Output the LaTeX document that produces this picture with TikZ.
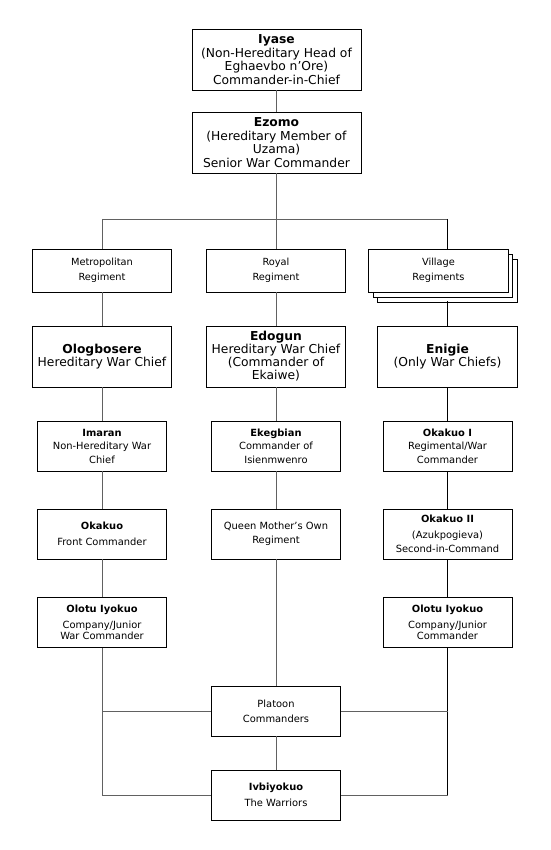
\documentclass[tikz,border=0pt]{standalone}
\usepackage{fontspec}
\setmainfont{DejaVu Sans}
\begin{document}
\begin{tikzpicture}[x=1pt,y=-1pt,
  box/.style={draw=black, fill=white, line width=0.8pt, inner sep=0pt, align=center},
  topbox/.style={box, minimum width=169pt, minimum height=61pt, font=\fontsize{12.3}{13.5}\selectfont},
  regbox/.style={box, minimum width=139.5pt, minimum height=43pt, font=\fontsize{9.8}{15}\selectfont},
  chiefbox/.style={box, minimum width=139.5pt, minimum height=61pt, font=\fontsize{12.3}{13}\selectfont},
  smallbox/.style={box, minimum width=129pt, minimum height=50pt, font=\fontsize{9.9}{13.5}\selectfont},
  link/.style={draw=black!62, line width=0.9pt},
  blink/.style={draw=black, line width=0.8pt}]
\useasboundingbox (0,0) rectangle (550,850);

% top
\node[topbox] (iyase) at (276.5,59.5) {\textbf{Iyase}\\(Non-Hereditary Head of\\Eghaevbo n'Ore)\\Commander-in-Chief};
\node[topbox] (ezomo) at (276.5,142.5) {\textbf{Ezomo}\\(Hereditary Member of\\Uzama)\\Senior War Commander};

% regiments
\node[regbox] (metro) at (102,270.5) {Metropolitan\\Regiment};
\node[regbox] (royal) at (276,270.5) {Royal\\Regiment};
\node[regbox] (village3) at (447.5,280.5) {};
\node[regbox] (village2) at (443,275.5) {};
\node[regbox] (village) at (438.5,270.5) {Village\\Regiments};

% chiefs
\node[chiefbox] (olog) at (102,356.5) {\textbf{Ologbosere}\\Hereditary War Chief};
\node[chiefbox] (edogun) at (276,356.5) {\textbf{Edogun}\\Hereditary War Chief\\(Commander of\\Ekaiwe)};
\node[chiefbox] (enigie) at (447.5,356.5) {\textbf{Enigie}\\(Only War Chiefs)};

% row 3
\node[smallbox] (imaran) at (102,446) {\textbf{Imaran}\\Non-Hereditary War\\Chief};
\node[smallbox] (ekegbian) at (276,446) {\textbf{Ekegbian}\\Commander of\\Isienmwenro};
\node[smallbox] (okakuoI) at (447.5,446) {\textbf{Okakuo I}\\Regimental/War\\Commander};

% row 4
\node[smallbox] (okakuo) at (102,534) {\textbf{Okakuo}\\[2.5pt]Front Commander};
\node[smallbox] (queen) at (276,534) {Queen Mother's Own\\Regiment};
\node[smallbox] (okakuoII) at (447.5,534) {\textbf{Okakuo II}\\[2.5pt](Azukpogieva)\\Second-in-Command};

% row 5
\node[smallbox, font=\fontsize{9.9}{11.7}\selectfont] (olotu) at (102,622.5) {\textbf{Olotu Iyokuo}\\[4pt]Company/Junior\\War Commander};
\node[smallbox, font=\fontsize{9.9}{11.7}\selectfont] (olotuII) at (447.5,622.5) {\textbf{Olotu Iyokuo}\\[4pt]Company/Junior\\Commander};

% bottom
\node[smallbox, font=\fontsize{9.9}{15}\selectfont] (platoon) at (276,711) {Platoon\\Commanders};
\node[smallbox, font=\fontsize{9.9}{16}\selectfont] (ivbi) at (276,795) {\textbf{Ivbiyokuo}\\The Warriors};

% coordinates
\coordinate (br) at (276.5,219);
\coordinate (brL) at (102,219);
\coordinate (brR) at (447.5,219);
\coordinate (vtop) at (447.5,249);
\coordinate (vbot) at (447.5,301);
\coordinate (pL) at (102,711);
\coordinate (pR) at (447.5,711);
\coordinate (wL) at (102,795);
\coordinate (wR) at (447.5,795);

% connectors
\path[link] (iyase) -- (ezomo);
\path[link] (ezomo) -- (br);
\path[link] (brL) -- (brR);
\path[link] (brL) -- (metro);
\path[link] (royal.north) -- (royal.north |- br);
\path[blink] (brR) -- (vtop);
\path[link] (metro) -- (olog);
\path[link] (royal) -- (edogun);
\path[blink] (vbot) -- (enigie);
\path[link] (olog) -- (imaran);
\path[link] (imaran) -- (okakuo);
\path[link] (okakuo) -- (olotu);
\path[link] (olotu) -- (wL) -- (ivbi.west);
\path[link] (pL) -- (platoon.west);
\path[link] (edogun) -- (ekegbian);
\path[link] (ekegbian) -- (queen);
\path[link] (queen) -- (platoon);
\path[link] (platoon) -- (ivbi);
\path[blink] (enigie) -- (okakuoI);
\path[blink] (okakuoI) -- (okakuoII);
\path[blink] (okakuoII) -- (olotuII);
\path[blink] (olotuII) -- (wR);
\path[link] (wR) -- (ivbi.east);
\path[link] (pR) -- (platoon.east);
\end{tikzpicture}
\end{document}
